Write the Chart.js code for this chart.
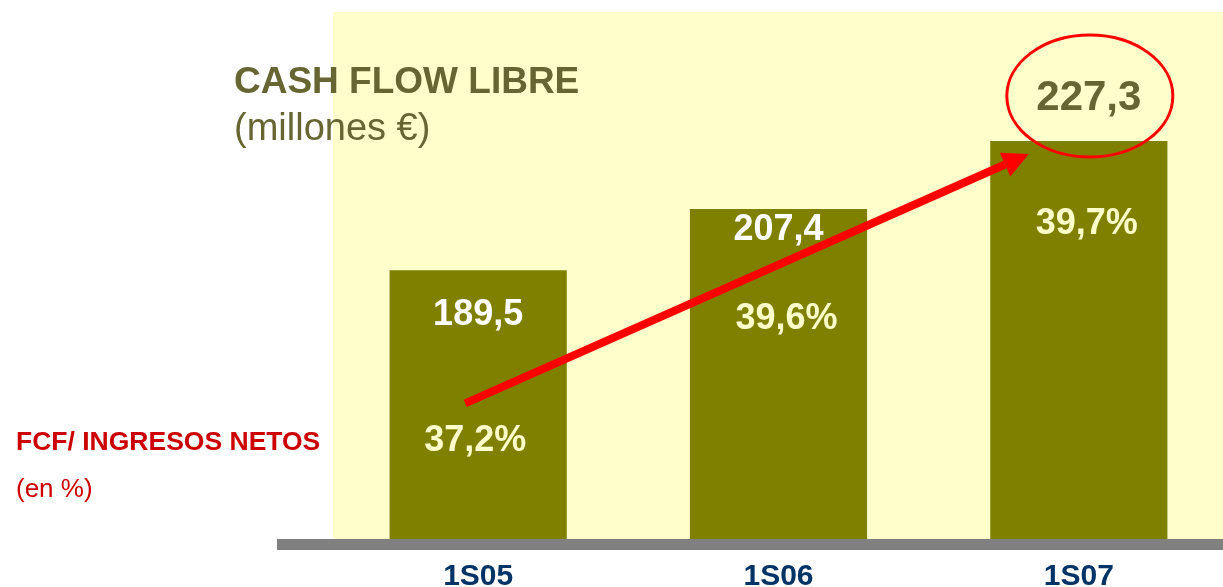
<!DOCTYPE html>
<html>
<head>
<meta charset="utf-8">
<script src="https://cdn.jsdelivr.net/npm/chart.js@4.4.1/dist/chart.umd.min.js"></script>
<style>
  html, body { margin: 0; padding: 0; background: #fff; overflow: hidden; }
  #wrap { position: relative; width: 1229px; height: 625px; }
</style>
</head>
<body>
<div id="wrap"><canvas id="fcf"></canvas></div>
<script>
// Data
const categories = ['1S05', '1S06', '1S07'];
const cashFlow = [189.5, 207.4, 227.3];     // millones €
const fcfRatio = [37.2, 39.6, 39.7];        // FCF / ingresos netos, %

const FONT = "'Liberation Sans', Arial, sans-serif";
const OLIVE = '#808000';
const TEXT_OLIVE = '#666633';
const RED = '#ff0000';

const fmt = v => v.toFixed(1).replace('.', ',');

// label baselines, offset from each bar top (slide layout)
const valueOffset = [55, 31, -31];
const ratioOffset = [181, 120, 93];

const slidePlugin = {
  id: 'slide',
  beforeDatasetsDraw(chart) {
    const { ctx, chartArea: a } = chart;
    ctx.save();
    ctx.fillStyle = '#ffffcc';
    ctx.fillRect(333, a.top, a.right - 333, a.bottom - a.top);
    ctx.restore();
  },
  afterDatasetsDraw(chart) {
    const { ctx, chartArea: a } = chart;
    const bars = chart.getDatasetMeta(0).data;
    ctx.save();

    // grey floor
    ctx.fillStyle = '#808080';
    ctx.fillRect(277, a.bottom, a.right - 277, 11);

    // values and ratios
    ctx.textAlign = 'center';
    ctx.textBaseline = 'alphabetic';
    bars.forEach((b, i) => {
      const last = i === bars.length - 1;
      ctx.font = `bold ${last ? 42 : 36}px ${FONT}`;
      ctx.fillStyle = last ? TEXT_OLIVE : '#ffffff';
      ctx.fillText(fmt(cashFlow[i]), b.x + (last ? 10 : 0), b.y + valueOffset[i]);
      ctx.font = `bold 36px ${FONT}`;
      ctx.fillStyle = '#ffffcc';
      ctx.fillText(fmt(fcfRatio[i]) + '%', b.x + (i === 0 ? -3 : 8), b.y + ratioOffset[i]);
    });

    // circle round the latest figure
    const top = bars[bars.length - 1];
    ctx.strokeStyle = RED;
    ctx.lineWidth = 3;
    ctx.beginPath();
    ctx.ellipse(top.x + 11, top.y - 45, 83, 61, 0, 0, Math.PI * 2);
    ctx.stroke();

    // growth arrow
    const x0 = bars[0].x - 13, y0 = bars[0].y + 133;
    const x1 = top.x - 50, y1 = top.y + 13;
    const ang = Math.atan2(y1 - y0, x1 - x0);
    const head = 26;
    const bx = x1 - head * Math.cos(ang), by = y1 - head * Math.sin(ang);
    ctx.strokeStyle = RED;
    ctx.lineWidth = 8;
    ctx.beginPath();
    ctx.moveTo(x0, y0);
    ctx.lineTo(bx, by);
    ctx.stroke();
    ctx.fillStyle = RED;
    ctx.beginPath();
    ctx.moveTo(x1, y1);
    ctx.lineTo(bx + 13 * Math.sin(ang), by - 13 * Math.cos(ang));
    ctx.lineTo(bx - 13 * Math.sin(ang), by + 13 * Math.cos(ang));
    ctx.closePath();
    ctx.fill();

    // headings
    ctx.textAlign = 'left';
    ctx.fillStyle = TEXT_OLIVE;
    ctx.font = `bold 37px ${FONT}`;
    ctx.fillText('CASH FLOW LIBRE', 234, 93);
    ctx.font = `38px ${FONT}`;
    ctx.fillText('(millones €)', 234, 140);

    ctx.fillStyle = '#cc0000';
    ctx.font = `bold 26.5px ${FONT}`;
    ctx.fillText('FCF/ INGRESOS NETOS', 16, 450);
    ctx.font = `26px ${FONT}`;
    ctx.fillText('(en %)', 16, 497);
    ctx.restore();
  }
};

new Chart(document.getElementById('fcf'), {
  type: 'bar',
  data: {
    labels: categories,
    datasets: [{
      label: 'Cash flow libre',
      data: cashFlow,
      backgroundColor: OLIVE,
      borderWidth: 0,
      barPercentage: 1,
      categoryPercentage: 0.59,
    }],
  },
  options: {
    responsive: true,
    maintainAspectRatio: false,
    animation: false,
    layout: { padding: { left: 328, right: 0, top: 12, bottom: 10 } },
    plugins: {
      legend: { display: false },
      tooltip: { enabled: false },
    },
    scales: {
      x: {
        grid: { display: false, drawTicks: false },
        border: { display: false },
        ticks: {
          color: '#003366',
          padding: 23,
          font: { family: FONT, size: 30, weight: 'bold', lineHeight: 1 },
        },
      },
      y: {
        display: false,
        min: 111,
        max: 265,
      },
    },
  },
  plugins: [slidePlugin],
});
</script>
</body>
</html>
